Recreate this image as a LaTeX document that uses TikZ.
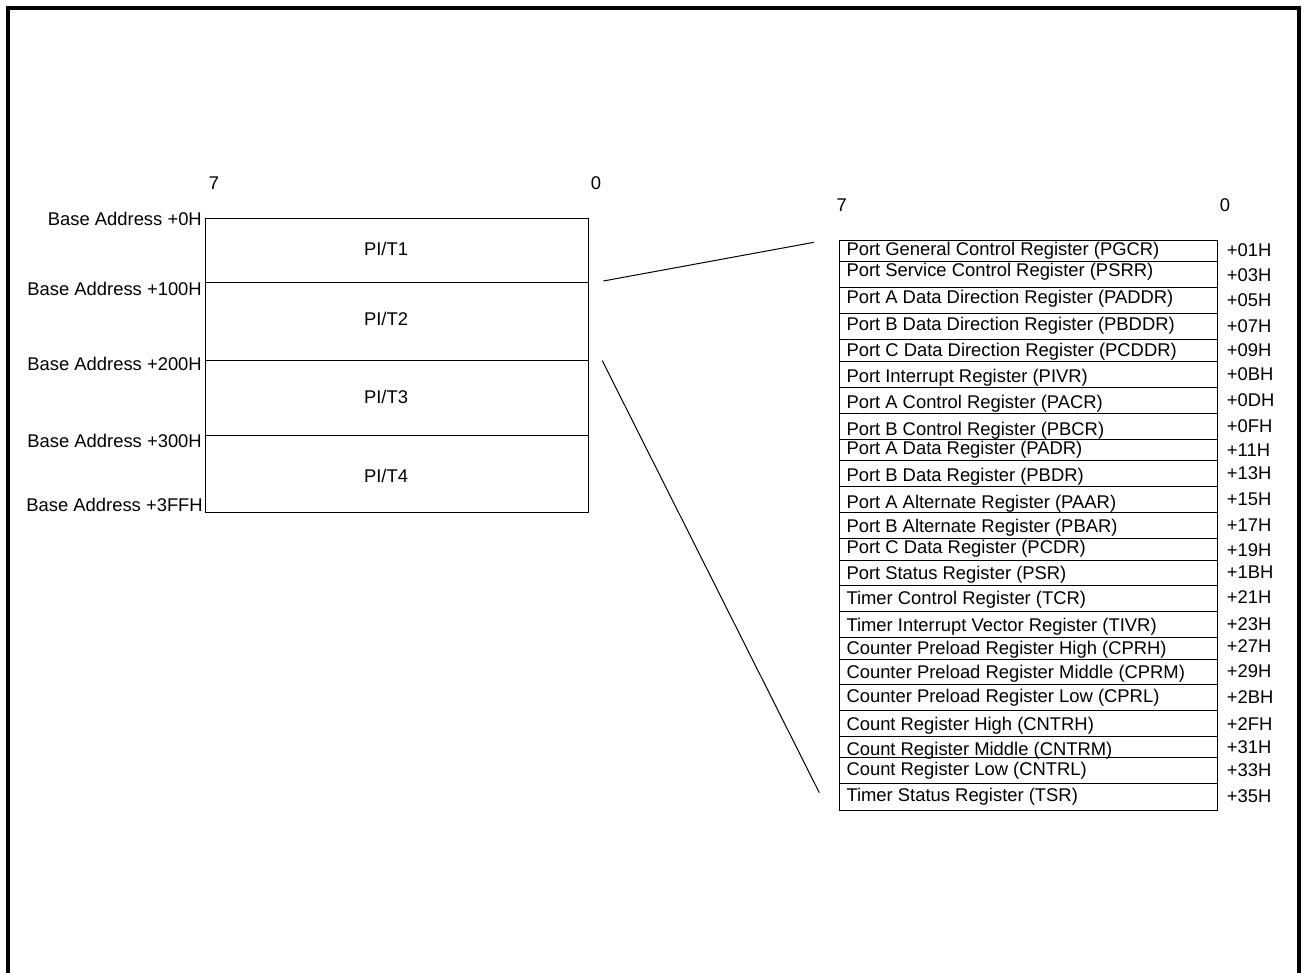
\documentclass[tikz,border=0pt]{standalone}
\usepackage{fontspec}
\setmainfont{Liberation Sans}
\usetikzlibrary{fit}
\begin{document}
\begin{tikzpicture}[x=1pt,y=-1pt,
  font=\fontsize{18.4}{22}\selectfont,
  cell/.style={draw=black, line width=1pt, inner sep=0pt},
  lbl/.style={inner sep=0pt, anchor=base west},
  rlbl/.style={inner sep=0pt, anchor=base east},
  clbl/.style={inner sep=0pt, anchor=base},
  link/.style={draw=black, line width=1pt},
  frame/.style={draw=black, line width=4pt}]
\useasboundingbox (0,0) rectangle (1305,972);
\fill[white] (0,0) rectangle (1305,972);
\clip (0,0) rectangle (1305,972);
\draw[frame] (8,1000) -- (8,8) -- (1299,8) -- (1299,1000);

% left memory map
\node[clbl] (l7) at (214,189.3) {7};
\node[clbl] (l0) at (596,189.3) {0};
\node[cell, fit={(205.7,218.3) (588.7,282.3)}] (pit1) {};
\node[cell, fit={(205.7,282.3) (588.7,360)}] (pit2) {};
\node[cell, fit={(205.7,360) (588.7,435)}] (pit3) {};
\node[cell, fit={(205.7,435) (588.7,512.3)}] (pit4) {};
\node[clbl] (t1) at (386,255.7) {PI/T1};
\node[clbl] (t2) at (386,325) {PI/T2};
\node[clbl] (t3) at (386,403.5) {PI/T3};
\node[clbl] (t4) at (386,482.5) {PI/T4};
\node[rlbl] (a0) at (202,225) {Base Address +0H};
\node[rlbl] (a1) at (202,295) {Base Address +100H};
\node[rlbl] (a2) at (202,370.5) {Base Address +200H};
\node[rlbl] (a3) at (202,447.3) {Base Address +300H};
\node[rlbl] (a4) at (203,511.7) {Base Address +3FFH};

% right register map
\node[clbl] (r7) at (841.7,211.7) {7};
\node[clbl] (r0) at (1225,211.7) {0};
\foreach \i/\t/\b/\nb/\nm/\ob/\off in {
 1/240/261.3/255/{Port General Control Register (PGCR)}/256/+01H,
 2/261.3/287.7/276.7/{Port Service Control Register (PSRR)}/281/+03H,
 3/287.7/313.3/303.3/{Port A Data Direction Register (PADDR)}/306/+05H,
 4/313.3/339/330/{Port B Data Direction Register (PBDDR)}/332.7/+07H,
 5/339/361/356/{Port C Data Direction Register (PCDDR)}/356/+09H,
 6/361/387/382/{Port Interrupt Register (PIVR)}/380/+0BH,
 7/387/413/408.3/{Port A Control Register (PACR)}/406/+0DH,
 8/413/439/435/{Port B Control Register (PBCR)}/432/+0FH,
 9/439/460.3/454/{Port A Data Register (PADR)}/456/+11H,
 10/460.3/486.3/481.7/{Port B Data Register (PBDR)}/479.3/+13H,
 11/486.3/512.3/508.3/{Port A Alternate Register (PAAR)}/505.3/+15H,
 12/512.3/538/532.7/{Port B Alternate Register (PBAR)}/531/+17H,
 13/538/560/553.3/{Port C Data Register (PCDR)}/556/+19H,
 14/560/585.7/579.3/{Port Status Register (PSR)}/578.7/+1BH,
 15/585.7/611.3/604.3/{Timer Control Register (TCR)}/603.7/+21H,
 16/611.3/637.3/631.7/{Timer Interrupt Vector Register (TIVR)}/630/+23H,
 17/637.3/659/654/{Counter Preload Register High (CPRH)}/652.7/+27H,
 18/659/684.3/678.7/{Counter Preload Register Middle (CPRM)}/677/+29H,
 19/684.3/710/702.3/{Counter Preload Register Low (CPRL)}/703.3/+2BH,
 20/710/736.7/730/{Count Register High (CNTRH)}/730/+2FH,
 21/736.7/757.7/755/{Count Register Middle (CNTRM)}/753.7/+31H,
 22/757.7/783.7/775/{Count Register Low (CNTRL)}/776.7/+33H,
 23/783.7/810/801.7/{Timer Status Register (TSR)}/802.7/+35H}{
  \node[cell, fit={(839.3,\t) (1217.3,\b)}] (r\i) {};
  \node[lbl] (n\i) at (846.3,\nb) {\nm};
  \node[lbl] (o\i) at (1226.7,\ob) {\off};
}

% expansion lines
\coordinate (k1) at (603.3,281);
\coordinate (k2) at (814,242.3);
\coordinate (k3) at (602.3,360.7);
\coordinate (k4) at (819.3,792.7);
\draw[link] (k1) -- (k2);
\draw[link] (k3) -- (k4);
\end{tikzpicture}
\end{document}
